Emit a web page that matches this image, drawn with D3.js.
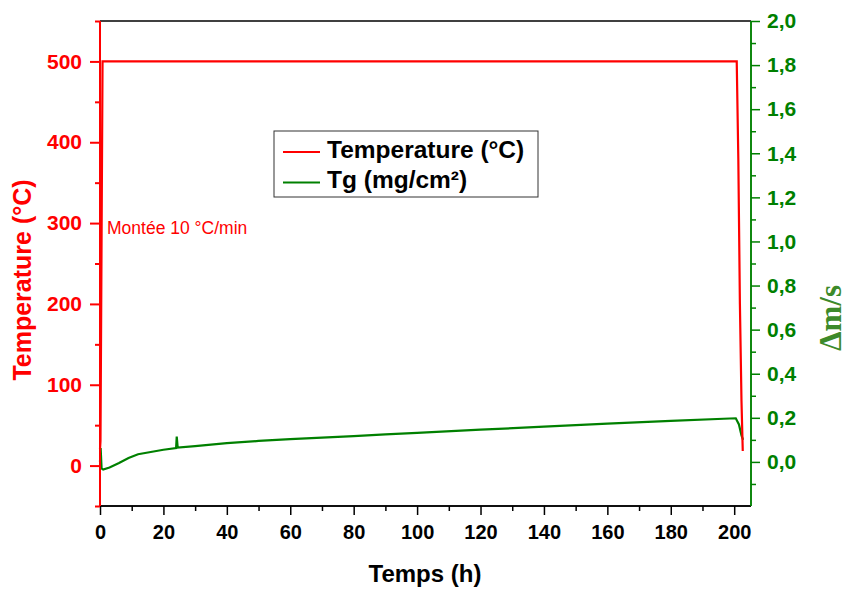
<!DOCTYPE html>
<html><head><meta charset="utf-8">
<script src="https://cdn.jsdelivr.net/npm/d3@7"></script>
<style>body{margin:0;background:#fff}svg{display:block}</style>
</head><body><div id="chart"></div>
<script>
// Temperature series (time h, °C)
const tempTime = [0, 0.15, 0.8, 200.8, 201.3, 201.8, 202.3, 202.7];
const tempValue = [20, 30, 500, 500, 380, 200, 80, 18];
// Tg series (time h, Δm/s)
const tgTime = [0, 0.2, 0.5, 1, 3, 6, 9, 12, 16, 20, 24, 24.2, 24.5, 30, 40, 50, 60, 70, 80, 90, 100, 120, 140, 160, 180, 200.5, 201.5, 202.3, 202.8];
const tgValue = [0.0, 0.063, -0.03, -0.035, -0.025, -0.005, 0.018, 0.035, 0.045, 0.055, 0.063, 0.115, 0.065, 0.072, 0.085, 0.095, 0.103, 0.110, 0.117, 0.125, 0.132, 0.146, 0.160, 0.174, 0.186, 0.198, 0.17, 0.12, 0.10];
const xTicks = [0, 20, 40, 60, 80, 100, 120, 140, 160, 180, 200];
const leftTicks = [0, 100, 200, 300, 400, 500];
const rightTicks = [0, 0.2, 0.4, 0.6, 0.8, 1.0, 1.2, 1.4, 1.6, 1.8, 2.0];
const legendLabels = ["Temperature (°C)", "Tg (mg/cm²)"];
const seriesColors = ["#ff0000", "#008000"];

const W = 850, H = 589;
const L = 100, R = 751, T = 21, B = 506;
const svg = d3.select("#chart").append("svg").attr("width", W).attr("height", H);

const x = d3.scaleLinear().domain([0, 205.3]).range([L, R]);
const yL = d3.scaleLinear().domain([-50, 550]).range([B, T]);
const yR = d3.scaleLinear().domain([-0.2, 2.0]).range([B, T]);

// top border
svg.append("line").attr("x1", L).attr("x2", R).attr("y1", T).attr("y2", T).attr("stroke", "#000").attr("stroke-width", 1.5);

// data lines
const tempData = tempTime.map((t, i) => [t, tempValue[i]]);
const tgData = tgTime.map((t, i) => [t, tgValue[i]]);
svg.append("path").datum(tgData)
  .attr("d", d3.line().x(d => x(d[0])).y(d => yR(d[1])))
  .attr("fill", "none").attr("stroke", seriesColors[1]).attr("stroke-width", 2.2);
svg.append("path").datum(tempData)
  .attr("d", d3.line().x(d => x(d[0])).y(d => yL(d[1])))
  .attr("fill", "none").attr("stroke", seriesColors[0]).attr("stroke-width", 2.2);

// bottom axis
const xAxisG = svg.append("g").attr("transform", `translate(0,${B})`);
xAxisG.call(d3.axisBottom(x).tickValues(d3.range(10, 205, 20)).tickSize(5).tickFormat(""));
xAxisG.call(g => g.append("g").call(d3.axisBottom(x).tickValues(xTicks).tickSize(9).tickPadding(10)));
xAxisG.selectAll("path.domain").attr("d", `M${L},0H${R}`);
xAxisG.selectAll("line,path").attr("stroke", "#000").attr("stroke-width", 1.5);
xAxisG.selectAll("text").attr("fill", "#000").style("font", "bold 20px Arial, 'Liberation Sans', sans-serif");

// left axis
const yLG = svg.append("g").attr("transform", `translate(${L},0)`);
yLG.call(d3.axisLeft(yL).tickValues([-50, 50, 150, 250, 350, 450, 550]).tickSize(5).tickFormat(""));
yLG.call(g => g.append("g").call(d3.axisLeft(yL).tickValues(leftTicks).tickSize(10).tickPadding(8)));
yLG.selectAll("path.domain").attr("d", `M0,${T}V${B}`);
yLG.selectAll("line,path").attr("stroke", "#ff0000").attr("stroke-width", 2);
yLG.selectAll("text").attr("fill", "#ff0000").style("font", "bold 21px Arial, 'Liberation Sans', sans-serif");

// right axis
const yRG = svg.append("g").attr("transform", `translate(${R},0)`);
yRG.call(d3.axisRight(yR).tickValues(d3.range(-0.1, 2.0, 0.2)).tickSize(5).tickFormat(""));
yRG.call(g => g.append("g").call(d3.axisRight(yR).tickValues(rightTicks).tickSize(9).tickPadding(7)
  .tickFormat(d => d3.format(".1f")(d).replace(".", ","))));
yRG.selectAll("path.domain").attr("d", `M0,${T}V${B}`);
yRG.selectAll("line,path").attr("stroke", "#008000").attr("stroke-width", 1.5);
yRG.selectAll("text").attr("fill", "#008000").style("font", "bold 21px Arial, 'Liberation Sans', sans-serif");

// axis titles
svg.append("text").attr("transform", "translate(31,280) rotate(-90)").attr("text-anchor", "middle")
  .attr("fill", "#ff0000").style("font", "bold 25px Arial, 'Liberation Sans', sans-serif").text("Temperature (°C)");
svg.append("text").attr("x", 425).attr("y", 582).attr("text-anchor", "middle")
  .attr("fill", "#000").style("font", "bold 24px Arial, 'Liberation Sans', sans-serif").text("Temps (h)");
svg.append("text").attr("transform", "translate(841,318) rotate(-90)").attr("text-anchor", "middle")
  .attr("fill", "#3d8a2a").style("font", "bold 31px 'Liberation Serif', 'Times New Roman', serif").text("Δm/s");

// annotation
svg.append("text").attr("x", 107).attr("y", 234).attr("fill", "#ff0000")
  .style("font", "17.5px Arial, 'Liberation Sans', sans-serif").text("Montée 10 °C/min");

// legend
const lg = svg.append("g");
lg.append("rect").attr("x", 274).attr("y", 131).attr("width", 264).attr("height", 66)
  .attr("fill", "#fff").attr("stroke", "#333").attr("stroke-width", 1);
legendLabels.forEach((lab, i) => {
  const yy = 152 + i * 30.5;
  lg.append("line").attr("x1", 283).attr("x2", 320).attr("y1", yy).attr("y2", yy)
    .attr("stroke", seriesColors[i]).attr("stroke-width", 2);
  lg.append("text").attr("x", 327).attr("y", yy + 5.5).attr("fill", "#000")
    .style("font", "bold 24.5px Arial, 'Liberation Sans', sans-serif").text(lab);
});
</script></body></html>
